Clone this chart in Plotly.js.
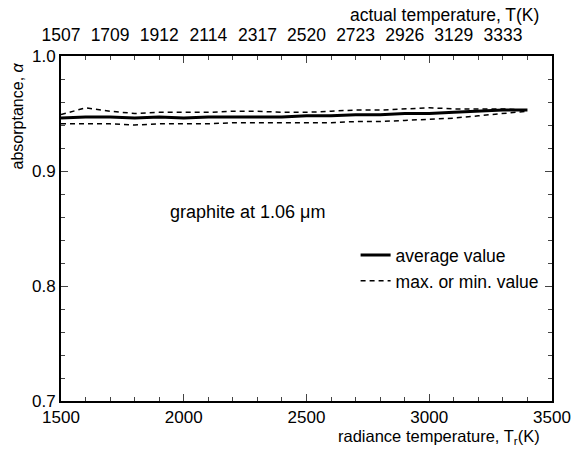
<!DOCTYPE html>
<html>
<head>
<meta charset="utf-8">
<script src="https://cdn.plot.ly/plotly-3.0.1.min.js"></script>
<style>html,body{margin:0;padding:0;background:#fff;}#chart{width:573px;height:451px;}</style>
</head>
<body>
<div id="chart"></div>
<script>
// Radiance temperature Tr (K)
const radianceT = [1500,1600,1700,1800,1900,2000,2100,2200,2300,2400,2500,2600,2700,2800,2900,3000,3100,3200,3300,3400];
// Average absorptance
const avgAlpha = [0.946,0.947,0.947,0.946,0.947,0.946,0.947,0.947,0.947,0.947,0.948,0.948,0.949,0.949,0.950,0.950,0.951,0.952,0.953,0.953];
// Maximum absorptance
const maxAlpha = [0.949,0.955,0.952,0.950,0.951,0.951,0.951,0.952,0.952,0.951,0.951,0.952,0.953,0.953,0.954,0.955,0.954,0.954,0.954,0.953];
// Minimum absorptance
const minAlpha = [0.941,0.941,0.941,0.940,0.941,0.941,0.941,0.942,0.942,0.942,0.942,0.942,0.943,0.943,0.944,0.945,0.946,0.948,0.950,0.952];
// Top axis: actual temperature labels at radiance temperatures
const topTickRadiance = [1500,1700,1900,2100,2300,2500,2700,2900,3100,3300];
const actualTempLabels = ['1507','1709','1912','2114','2317','2520','2723','2926','3129','3333'];

const FONT = 'Liberation Sans, Arial, sans-serif';

const traces = [
  {x: radianceT, y: avgAlpha, type: 'scatter', mode: 'lines', name: 'average value',
   line: {color: '#000', width: 3}, showlegend: true},
  {x: radianceT, y: maxAlpha, type: 'scatter', mode: 'lines', name: 'max. or min. value',
   line: {color: '#000', width: 1.5, dash: '5px,4px'}, showlegend: true, legendgroup: 'mm'},
  {x: radianceT, y: minAlpha, type: 'scatter', mode: 'lines', name: 'max. or min. value',
   line: {color: '#000', width: 1.5, dash: '5px,4px'}, showlegend: false, legendgroup: 'mm'},
  {x: [radianceT[0]], y: [avgAlpha[0]], xaxis: 'x2', type: 'scatter', mode: 'markers',
   marker: {opacity: 0}, showlegend: false, hoverinfo: 'skip'}
];

const layout = {
  width: 573, height: 451,
  margin: {l: 61, r: 21, t: 56, b: 50},
  paper_bgcolor: '#fff', plot_bgcolor: '#fff',
  font: {family: FONT, size: 17, color: '#000'},
  showlegend: true,
  legend: {x: 0.6, y: 0.475, xanchor: 'left', yanchor: 'top', bgcolor: 'rgba(0,0,0,0)',
           font: {family: FONT, size: 17.5, color: '#000'}, tracegroupgap: 0},
  xaxis: {range: [1500, 3500], dtick: 500, tick0: 1500, ticks: 'inside', ticklen: 7, tickwidth: 1,
          showline: true, linewidth: 2, linecolor: '#000', mirror: 'ticks', showgrid: false, zeroline: false,
          minor: {dtick: 100, ticks: 'inside', ticklen: 4, tickwidth: 1, showgrid: false},
          tickfont: {family: FONT, size: 17}},
  xaxis2: {overlaying: 'x', side: 'top', range: [1500, 3500], tickmode: 'array',
           tickvals: topTickRadiance, ticktext: actualTempLabels, ticks: '', showline: false,
           showgrid: false, zeroline: false, ticklabelstandoff: 11, tickfont: {family: FONT, size: 17.5}},
  yaxis: {range: [0.7, 1.0], dtick: 0.1, tick0: 0.7, tickformat: '.1f', ticks: 'inside', ticklen: 7, tickwidth: 1,
          showline: true, linewidth: 2, linecolor: '#000', mirror: 'ticks', showgrid: false, zeroline: false,
          minor: {dtick: 0.02, ticks: 'inside', ticklen: 4, tickwidth: 1, showgrid: false},
          tickfont: {family: FONT, size: 17}},
  annotations: [
    {text: 'radiance temperature, T<sub>r</sub>(K)', xref: 'paper', yref: 'paper', x: 0.98, y: -0.139,
     xanchor: 'right', yanchor: 'bottom', showarrow: false, font: {family: FONT, size: 16.5}},
    {text: 'actual temperature, T(K)', xref: 'paper', yref: 'paper', x: 0.977, y: 1.119,
     xanchor: 'right', yanchor: 'middle', showarrow: false, font: {family: FONT, size: 17.5}},
    {text: 'absorptance, <i>α</i>', xref: 'paper', yref: 'paper', x: -0.088, y: 0.988, textangle: -90,
     xanchor: 'center', yanchor: 'top', showarrow: false, font: {family: FONT, size: 16}},
    {text: 'graphite at 1.06 μm', xref: 'x', yref: 'y', x: 1935, y: 0.864,
     xanchor: 'left', yanchor: 'middle', showarrow: false, font: {family: FONT, size: 18}}
  ]
};

Plotly.newPlot('chart', traces, layout, {displayModeBar: false, staticPlot: true});
</script>
</body>
</html>
